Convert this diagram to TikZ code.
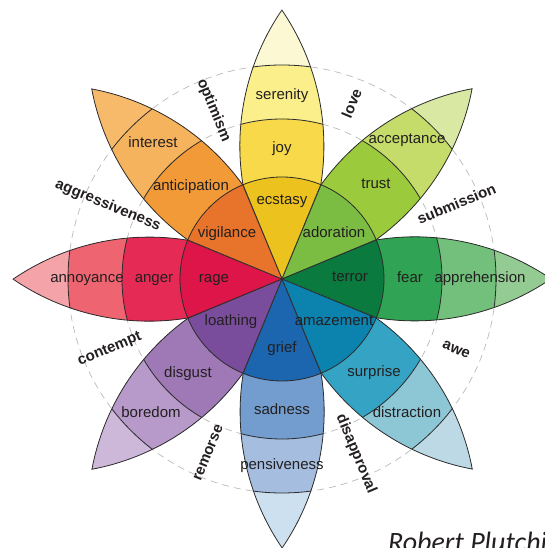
\documentclass[tikz,border=0pt]{standalone}
\usepackage{fontspec}
\setmainfont{Liberation Sans}
\newfontfamily\credfont{Carlito}

\definecolor{txt}{HTML}{231F20}
\definecolor{edge}{HTML}{2B2B2B}
\definecolor{yellowtip}{HTML}{FCF8D3}
\definecolor{serenityC}{HTML}{FBEF8B}
\definecolor{joyC}{HTML}{F7D94A}
\definecolor{ecstasyC}{HTML}{ECC21E}
\definecolor{limetip}{HTML}{D9E8A2}
\definecolor{acceptanceC}{HTML}{C6DC6A}
\definecolor{trustC}{HTML}{9BCA3D}
\definecolor{adorationC}{HTML}{7BBD42}
\definecolor{greentip}{HTML}{93CB93}
\definecolor{apprehensionC}{HTML}{72C07B}
\definecolor{fearC}{HTML}{31A354}
\definecolor{terrorC}{HTML}{0B7A3E}
\definecolor{tealtip}{HTML}{BCD9E5}
\definecolor{distractionC}{HTML}{8DC7D6}
\definecolor{surpriseC}{HTML}{35A4C4}
\definecolor{amazementC}{HTML}{0C82AF}
\definecolor{bluetip}{HTML}{CDE0EF}
\definecolor{pensivenessC}{HTML}{A5BDDF}
\definecolor{sadnessC}{HTML}{729DCE}
\definecolor{griefC}{HTML}{1C66B0}
\definecolor{purpletip}{HTML}{CEB8DA}
\definecolor{boredomC}{HTML}{B79AC9}
\definecolor{disgustC}{HTML}{9E79B5}
\definecolor{loathingC}{HTML}{7A4D9C}
\definecolor{redtip}{HTML}{F4A3A8}
\definecolor{annoyanceC}{HTML}{EE6471}
\definecolor{angerC}{HTML}{E52A56}
\definecolor{rageC}{HTML}{DD1549}
\definecolor{orangetip}{HTML}{F7BA6A}
\definecolor{interestC}{HTML}{F6B35E}
\definecolor{anticipationC}{HTML}{F29A38}
\definecolor{vigilanceC}{HTML}{E8732A}

\newcommand{\rin}{102}
\newcommand{\rmid}{160}
\newcommand{\rout}{214}
\newcommand{\petalpath}{(0,0) -- (22.5:\rin)
    arc[start angle=99.25, end angle=55.65, radius=241]
    arc[start angle=-55.65, end angle=-99.25, radius=241] -- cycle}
\newcommand{\emn}{\node[font=\fontsize{15}{18}\selectfont, text=txt, inner sep=0pt, text height=0.75em, text depth=0.25em]}
\newcommand{\dyn}{\node[font=\fontsize{15}{18}\selectfont\bfseries, text=txt, inner sep=0pt, text height=0.75em, text depth=0.25em]}
\newcommand{\drawpetal}[5]{%
    \begin{scope}[rotate=#1]
        \clip \petalpath;
        \fill[#2] (0,0) circle (280);
        \fill[#3] (0,0) circle (\rout);
        \fill[#4] (0,0) circle (\rmid);
        \fill[#5] (0,0) circle (\rin);
        \draw[edge, line width=0.8pt] (0,0) circle (\rout) (0,0) circle (\rmid);
    \end{scope}
    \draw[edge, line width=0.8pt, rotate=#1] \petalpath;
}

\begin{document}
\begin{tikzpicture}[x=1pt, y=1pt]
            \useasboundingbox (-282,-269) rectangle (262,279);

            \draw[gray!55, line width=0.7pt, dash pattern=on 7pt off 5pt]
                (0,0) circle (\rmid)
                (0,0) circle (\rout);

            \drawpetal{90}{yellowtip}{serenityC}{joyC}{ecstasyC}
            \drawpetal{45}{limetip}{acceptanceC}{trustC}{adorationC}
            \drawpetal{0}{greentip}{apprehensionC}{fearC}{terrorC}
            \drawpetal{-45}{tealtip}{distractionC}{surpriseC}{amazementC}
            \drawpetal{-90}{bluetip}{pensivenessC}{sadnessC}{griefC}
            \drawpetal{-135}{purpletip}{boredomC}{disgustC}{loathingC}
            \drawpetal{180}{redtip}{annoyanceC}{angerC}{rageC}
            \drawpetal{135}{orangetip}{interestC}{anticipationC}{vigilanceC}

            \draw[edge, line width=0.8pt] (0,0) circle (\rin);

            \emn (ecstasy) at (0,77) {ecstasy};
            \emn (joy) at (0,129) {joy};
            \emn (serenity) at (0,182) {serenity};
            \emn (adoration) at (52,44) {adoration};
            \emn (trust) at (94,93) {trust};
            \emn (acceptance) at (125,138) {acceptance};
            \emn (terror) at (68,0) {terror};
            \emn (fear) at (128,-1) {fear};
            \emn (apprehension) at (198,-1) {apprehension};
            \emn (amazement) at (52,-44) {amazement};
            \emn (surprise) at (92,-95) {surprise};
            \emn (distraction) at (125,-136) {distraction};
            \emn (grief) at (0,-71) {grief};
            \emn (sadness) at (0,-133) {sadness};
            \emn (pensiveness) at (0,-188) {pensiveness};
            \emn (loathing) at (-51,-44) {loathing};
            \emn (disgust) at (-94,-96) {disgust};
            \emn (boredom) at (-131,-136) {boredom};
            \emn (rage) at (-68,-1) {rage};
            \emn (anger) at (-128,-1) {anger};
            \emn (annoyance) at (-195,-1) {annoyance};
            \emn (vigilance) at (-55,44) {vigilance};
            \emn (anticipation) at (-91,91) {anticipation};
            \emn (interest) at (-129,134) {interest};

            \dyn[rotate=67.5] (love) at (67.5:189) {love};
            \dyn[rotate=22.5] (submission) at (22.5:190) {submission};
            \dyn[rotate=-22.5] (awe) at (-22.5:188) {awe};
            \dyn[rotate=-67.5] (disapproval) at (-67.5:190) {disapproval};
            \dyn[rotate=67.5] (remorse) at (-112.5:189) {remorse};
            \dyn[rotate=22.5] (contempt) at (-157.5:186) {contempt};
            \dyn[rotate=-22.5] (aggressiveness) at (157.5:189) {aggressiveness};
            \dyn[rotate=-67.5] (optimism) at (112.5:182) {optimism};

            \node[anchor=base west, inner sep=0pt, text=txt,
                font=\credfont\itshape\fontsize{28}{32}\selectfont]
                (credit) at (106,-272) {Robert Plutchik};
        \end{tikzpicture}
\end{document}
